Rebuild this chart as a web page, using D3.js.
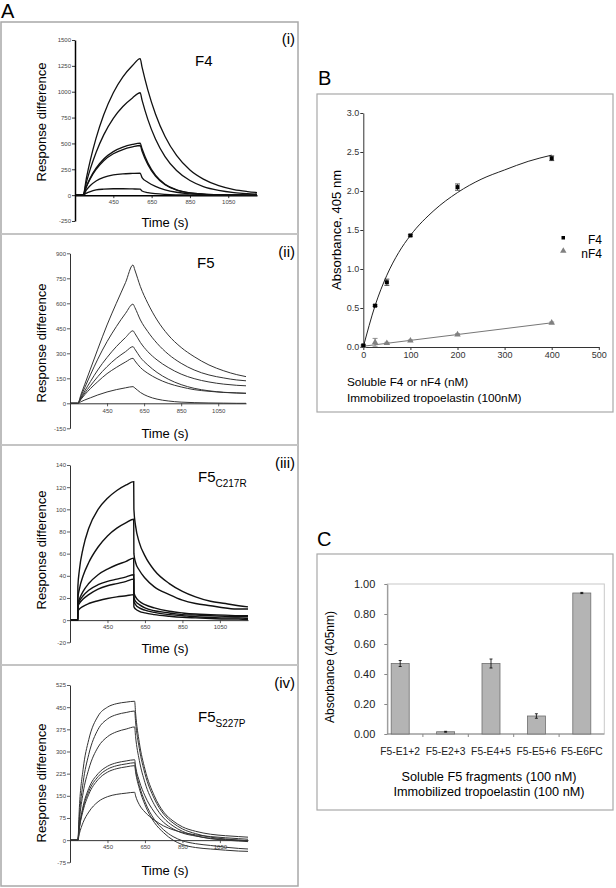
<!DOCTYPE html>
<html><head><meta charset="utf-8">
<script src="https://cdn.jsdelivr.net/npm/d3@7"></script>
<style>
body{margin:0;background:#fff}
svg{display:block}
text{font-family:Arial,"Liberation Sans",sans-serif}
</style>
</head><body>
<svg id="fig" width="616" height="888"></svg>
<script>
// ---------------- DATA ----------------
// Panel A (i) F4 sensorgrams
const timesF4 = [255,292,310,330,360,400,450,500,550,590,600,630,670,720,780,850,920,1000,1080,1150,1200];
const respF4 = [
  [0,0,170,338,551,777,990,1143,1253,1320,1237,1018,785,567,384,243,155,92,54,35,25],
  [0,0,128,254,413,583,743,857,940,990,919,733,543,373,238,141,83,46,25,15,10],
  [0,0,87,168,261,350,421,464,490,503,448,312,193,106,52,22,10,4,2,1,0],
  [0,0,83,160,248,333,400,441,466,480,425,296,183,100,49,21,10,4,2,1,0],
  [0,0,51,93,137,172,195,206,210,212,170,125,85,52,28,13,6,3,1,0,0],
  [0,0,20,35,50,58,62,62,60,58,40,25,14,7,3,1,0,0,0,0,0]
];
const yTicksF4 = [-250,0,250,500,750,1000,1250,1500];

// Panel A (ii) F5 sensorgrams
const timesF5 = [255,292,310,330,360,400,450,500,550,590,600,630,670,720,780,850,920,1000,1080,1150,1200];
const respF5 = [
  [0,0,55,115,205,325,470,600,725,830,800,700,600,500,410,335,280,230,195,172,160],
  [0,0,45,95,170,265,370,460,540,595,575,500,430,360,295,240,200,170,152,140,135],
  [0,0,35,75,130,200,275,340,395,435,420,365,310,260,215,175,148,128,115,108,105],
  [0,0,30,62,105,160,220,270,310,340,325,275,230,185,145,112,90,75,66,62,60],
  [0,0,25,52,88,130,178,215,248,270,255,215,180,148,120,98,82,72,65,62,60],
  [0,0,10,20,33,50,68,82,93,100,92,65,42,25,14,7,4,2,1,0,0]
];
const yTicksF5 = [-150,0,150,300,450,600,750,900];

// Panel A (iii) F5 C217R sensorgrams
const timesC217R = [255,291,292,300,320,350,400,450,500,550,590,591,600,620,650,700,780,850,920,1000,1080,1150,1200];
const respC217R = [
  [0,0,30,45,65,83,100,110,117,122,125,100,85,70,58,45,33,26,21,17,15,13,12],
  [0,0,20,28,40,52,66,76,83,88,91,60,52,45,38,30,23,18,15,13,11,10,10],
  [0,0,15,19,26,33,41,46,50,53,56,25,21,17,14,11,8,6.5,5.5,5,4.5,4,4],
  [0,0,14,17,22,27,32,35,37,39,41,20,17,14,11,8.5,6.5,5,4.5,4,3.5,3,3],
  [0,0,12,15,19,23,28,31,33,35,37,17,14,11,9,7,5,4,3,2.5,2,2,1.5],
  [0,0,8,10,12.5,15,17.5,19.5,21,22,23,12,10,8,6.5,5,3.5,2.5,2,1.5,1,1,0.5]
];
const yTicksC217R = [-20,0,20,40,60,80,100,120,140];

// Panel A (iv) F5 S227P sensorgrams
const timesS227P = [255,291,292,300,320,350,400,450,500,550,595,600,620,650,700,750,800,850,920,1000,1080,1150,1200];
const respS227P = [
  [0,0,0,110,240,340,420,450,462,467,470,430,330,240,150,95,65,45,30,20,15,12,10],
  [0,0,0,80,195,290,375,410,425,432,437,400,310,225,140,88,58,38,22,10,4,0,-2],
  [0,0,0,65,160,240,315,350,367,376,383,350,270,195,120,75,48,30,15,5,0,-3,-5],
  [0,0,0,45,115,175,225,250,262,268,272,250,200,150,95,60,38,24,14,6,2,0,-2],
  [0,0,0,42,108,165,215,240,252,258,262,240,185,130,70,35,12,-2,-12,-18,-24,-28,-30],
  [0,0,0,40,100,155,205,230,242,248,252,230,175,120,60,25,0,-15,-25,-30,-34,-37,-38],
  [0,0,0,22,60,95,130,147,155,159,162,150,120,95,68,48,35,26,18,12,8,5,3]
];
const yTicksS227P = [-75,0,75,150,225,300,375,450,525];

const xTicksTime = [450,650,850,1050];

// Panel B
const concB = [0,25,50,100,200,400];
const absF4 = [0.02,0.53,0.83,1.43,2.05,2.42];
const errF4 = [0.01,0.01,0.04,0.01,0.04,0.03];
const absNF4 = [0.01,0.06,0.05,0.08,0.16,0.31];
const errNF4 = [0.01,0.05,0.01,0.01,0.01,0.01];
const fitF4X = [0,25,50,75,100,150,200,250,300,350,400];
const fitF4Y = [0,0.53,0.92,1.21,1.43,1.75,1.98,2.15,2.27,2.38,2.46];
const fitNF4X = [0,400];
const fitNF4Y = [0.01,0.31];
const yTicksB = [0,0.5,1.0,1.5,2.0,2.5,3.0];
const xTicksB = [0,100,200,300,400,500];

// Panel C
const fragments = ["F5-E1+2","F5-E2+3","F5-E4+5","F5-E5+6","F5-E6FC"];
const fragAbs = [0.47,0.015,0.47,0.12,0.94];
const fragErr = [0.02,0.003,0.03,0.015,0.004];
const yTicksC = [0,0.2,0.4,0.6,0.8,1.0];

// ---------------- DRAWING ----------------
const svg = d3.select("#fig");
const FONT = 'Arial,"Liberation Sans",sans-serif';

// Panel A frame
svg.append("rect").attr("x",1).attr("y",22).attr("width",297).attr("height",864)
  .attr("fill","none").attr("stroke","#a8a8a8").attr("stroke-width",1.5);
[234,445,665].forEach(y=>svg.append("line").attr("x1",1).attr("x2",298).attr("y1",y).attr("y2",y)
  .attr("stroke","#c4c4c4").attr("stroke-width",2));
svg.append("text").attr("x",1).attr("y",18).attr("font-size",20).text("A");

function drawSPR(cfg){
  const g = svg.append("g");
  const x = d3.scaleLinear().domain([250,1200]).range([cfg.x0,cfg.x1]);
  const y = d3.scaleLinear().domain(cfg.yDomain).range([cfg.yB,cfg.yT]);
  const ya = g.append("g").attr("transform",`translate(${cfg.x0},0)`)
    .call(d3.axisLeft(y).tickValues(cfg.yTicks).tickFormat(d=>String(d)).tickSize(3).tickSizeOuter(0).tickPadding(1));
  const xa = g.append("g").attr("transform",`translate(0,${y(0)})`)
    .call(d3.axisBottom(x).tickValues(xTicksTime).tickFormat(d=>String(d)).tickSize(3).tickSizeOuter(0).tickPadding(2));
  [ya,xa].forEach(a=>{
    a.select(".domain").attr("stroke",cfg.axisColor).attr("stroke-width",cfg.axisW);
    a.selectAll(".tick line").attr("stroke",cfg.axisColor).attr("stroke-width",0.8);
    a.selectAll(".tick text").attr("font-size",6).attr("fill","#444").attr("font-family",FONT);
  });
  const line = d3.line().x((d,i)=>x(cfg.times[i])).y(d=>y(d)).curve(d3.curveMonotoneX);
  g.selectAll("path.curve").data(cfg.series).enter().append("path").attr("class","curve")
    .attr("d",line).attr("fill","none").attr("stroke",cfg.color).attr("stroke-width",cfg.lw);
  g.append("text").attr("transform",`translate(${cfg.ylX},${cfg.ylY}) rotate(-90)`)
    .attr("text-anchor","middle").attr("font-size",13).text("Response difference");
  g.append("text").attr("x",165).attr("y",cfg.xlY).attr("text-anchor","middle")
    .attr("font-size",13).text("Time (s)");
  const t = g.append("text").attr("x",cfg.titleX).attr("y",cfg.titleY).attr("font-size",15);
  t.append("tspan").text("F" + cfg.titleMain);
  if(cfg.sub) t.append("tspan").attr("font-size",10).attr("dy",5).text(cfg.sub);
  g.append("text").attr("x",295).attr("y",cfg.tagY).attr("text-anchor","end")
    .attr("font-size",15).text(cfg.tag);
}

drawSPR({x0:75,x1:257,yT:40,yB:221,yDomain:[-250,1500],yTicks:yTicksF4,times:timesF4,series:respF4,
  color:"#111",lw:1.3,axisColor:"#000",axisW:1.5,ylX:46,ylY:122,xlY:227,
  titleMain:"4",titleX:195,titleY:66,tag:"(i)",tagY:44});
drawSPR({x0:70,x1:246,yT:253.3,yB:428.3,yDomain:[-150,900],yTicks:yTicksF5,times:timesF5,series:respF5,
  color:"#333",lw:1,axisColor:"#333",axisW:1,ylX:46,ylY:343,xlY:438,
  titleMain:"5",titleX:197,titleY:268,tag:"(ii)",tagY:257});
drawSPR({x0:70,x1:248,yT:465,yB:642.3,yDomain:[-20,140],yTicks:yTicksC217R,times:timesC217R,series:respC217R,
  color:"#111",lw:1.4,axisColor:"#333",axisW:1,ylX:46,ylY:550,xlY:653,
  titleMain:"5",titleX:198,titleY:482,sub:"C217R",tag:"(iii)",tagY:468});
drawSPR({x0:70,x1:248,yT:685,yB:862.3,yDomain:[-75,525],yTicks:yTicksS227P,times:timesS227P,series:respS227P,
  color:"#333",lw:1,axisColor:"#333",axisW:1,ylX:46,ylY:783,xlY:875,
  titleMain:"5",titleX:198,titleY:722,sub:"S227P",tag:"(iv)",tagY:688});

// ---------------- Panel B ----------------
svg.append("text").attr("x",318).attr("y",85).attr("font-size",20).text("B");
svg.append("rect").attr("x",317).attr("y",94).attr("width",296).attr("height",318)
  .attr("fill","none").attr("stroke","#a8a8a8").attr("stroke-width",1.2);
{
  const g = svg.append("g");
  const x = d3.scaleLinear().domain([0,500]).range([363.3,598.8]);
  const y = d3.scaleLinear().domain([0,3]).range([347,113]);
  const ya = g.append("g").attr("transform","translate(363.3,0)")
    .call(d3.axisLeft(y).tickValues(yTicksB).tickFormat(d3.format(".1f")).tickSize(3).tickSizeOuter(0).tickPadding(1));
  const xa = g.append("g").attr("transform","translate(0,347)")
    .call(d3.axisBottom(x).tickValues(xTicksB).tickSize(3).tickSizeOuter(0).tickPadding(2));
  [ya,xa].forEach(a=>{
    a.select(".domain").attr("stroke","#333");
    a.selectAll(".tick line").attr("stroke","#333");
    a.selectAll(".tick text").attr("font-size",9).attr("fill","#333").attr("font-family",FONT);
  });
  const line = d3.line().x(d=>x(d[0])).y(d=>y(d[1])).curve(d3.curveMonotoneX);
  g.append("path").attr("d",line(fitF4X.map((v,i)=>[v,fitF4Y[i]]))).attr("fill","none").attr("stroke","#222").attr("stroke-width",1);
  g.append("path").attr("d",line(fitNF4X.map((v,i)=>[v,fitNF4Y[i]]))).attr("fill","none").attr("stroke","#777").attr("stroke-width",1);
  const eb = (xs,ys,es,col)=>{
    xs.forEach((v,i)=>{
      const cx=x(v), y1=y(ys[i]+es[i]), y2=y(ys[i]-es[i]);
      g.append("line").attr("x1",cx).attr("x2",cx).attr("y1",y1).attr("y2",y2).attr("stroke",col).attr("stroke-width",0.8);
      g.append("line").attr("x1",cx-2.5).attr("x2",cx+2.5).attr("y1",y1).attr("y2",y1).attr("stroke",col).attr("stroke-width",0.8);
      g.append("line").attr("x1",cx-2.5).attr("x2",cx+2.5).attr("y1",y2).attr("y2",y2).attr("stroke",col).attr("stroke-width",0.8);
    });
  };
  eb(concB,absNF4,errNF4,"#777");
  eb(concB,absF4,errF4,"#222");
  const tri = d3.symbol().type(d3.symbolTriangle).size(18);
  concB.forEach((v,i)=>g.append("path").attr("d",tri()).attr("transform",`translate(${x(v)},${y(absNF4[i])})`).attr("fill","#808080"));
  concB.forEach((v,i)=>g.append("rect").attr("x",x(v)-2).attr("y",y(absF4[i])-2).attr("width",4).attr("height",4).attr("fill","#000"));
  // legend
  g.append("rect").attr("x",561.5).attr("y",236).attr("width",3.5).attr("height",3.5).attr("fill","#000");
  g.append("path").attr("d",tri()).attr("transform","translate(563.3,251)").attr("fill","#808080");
  g.append("text").attr("x",602).attr("y",244).attr("text-anchor","end").attr("font-size",12).text("F4");
  g.append("text").attr("x",602).attr("y",258).attr("text-anchor","end").attr("font-size",12).text("nF4");
  g.append("text").attr("transform","translate(341,230) rotate(-90)").attr("text-anchor","middle").attr("font-size",13).text("Absorbance, 405 nm");
  g.append("text").attr("x",347).attr("y",386).attr("font-size",11.8).text("Soluble F4 or nF4 (nM)");
  g.append("text").attr("x",347).attr("y",402).attr("font-size",11.8).text("Immobilized tropoelastin (100nM)");
}

// ---------------- Panel C ----------------
svg.append("text").attr("x",317).attr("y",546).attr("font-size",20).text("C");
svg.append("rect").attr("x",317).attr("y",554).attr("width",296).attr("height",256)
  .attr("fill","none").attr("stroke","#a8a8a8").attr("stroke-width",1.2);
{
  const g = svg.append("g");
  const x = d3.scaleBand().domain(fragments).range([377.5,604.5]).padding(0);
  const y = d3.scaleLinear().domain([0,1]).range([734,584]);
  g.append("rect").attr("x",387.3).attr("y",584).attr("width",604.3-387.3).attr("height",150)
    .attr("fill","none").attr("stroke","#c8c8c8").attr("stroke-width",1);
  const ya = g.append("g").attr("transform","translate(387.3,0)")
    .call(d3.axisLeft(y).tickValues(yTicksC).tickFormat(d3.format(".2f")).tickSize(3).tickSizeOuter(0).tickPadding(9));
  ya.select(".domain").attr("stroke","#888");
  ya.selectAll(".tick line").attr("stroke","#888");
  ya.selectAll(".tick text").attr("font-size",11).attr("fill","#222").attr("font-family",FONT);
  g.append("line").attr("x1",387.3).attr("x2",604.3).attr("y1",734).attr("y2",734).attr("stroke","#888");
  fragments.slice(1).forEach(f=>{
    const bx = x(f);
    g.append("line").attr("x1",bx).attr("x2",bx).attr("y1",734).attr("y2",737).attr("stroke","#888");
  });
  const bw = 18;
  fragments.forEach((f,i)=>{
    const cx = x(f)+x.bandwidth()/2;
    g.append("rect").attr("x",cx-bw/2).attr("y",y(fragAbs[i])).attr("width",bw).attr("height",y(0)-y(fragAbs[i]))
      .attr("fill","#b4b4b4").attr("stroke","#6e6e6e").attr("stroke-width",0.8);
    const y1=y(fragAbs[i]+fragErr[i]), y2=y(fragAbs[i]-fragErr[i]);
    g.append("line").attr("x1",cx).attr("x2",cx).attr("y1",y1).attr("y2",y2).attr("stroke","#000").attr("stroke-width",0.8);
    g.append("line").attr("x1",cx-1.5).attr("x2",cx+1.5).attr("y1",y1).attr("y2",y1).attr("stroke","#000").attr("stroke-width",0.8);
    g.append("line").attr("x1",cx-1.5).attr("x2",cx+1.5).attr("y1",y2).attr("y2",y2).attr("stroke","#000").attr("stroke-width",0.8);
    g.append("text").attr("x",cx).attr("y",755).attr("text-anchor","middle").attr("font-size",10.3).attr("fill","#222").text(f);
  });
  g.append("text").attr("transform","translate(334,667) rotate(-90)").attr("text-anchor","middle").attr("font-size",12).text("Absorbance (405nm)");
  g.append("text").attr("x",489).attr("y",781).attr("text-anchor","middle").attr("font-size",12.7).text("Soluble F5 fragments (100 nM)");
  g.append("text").attr("x",489).attr("y",796).attr("text-anchor","middle").attr("font-size",12.7).text("Immobilized tropoelastin (100 nM)");
}
</script>
</body></html>
